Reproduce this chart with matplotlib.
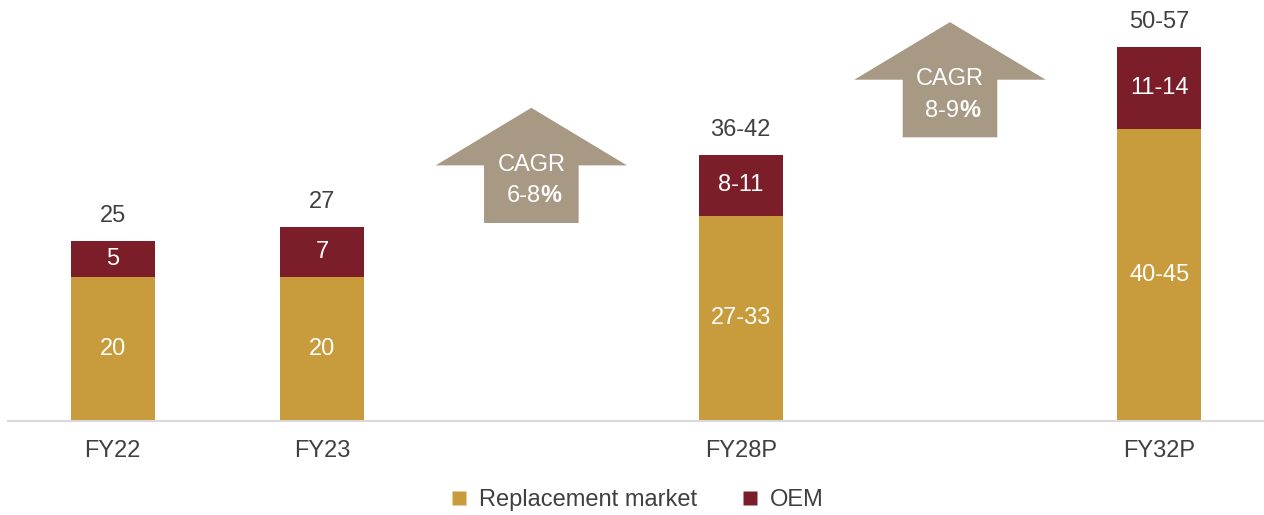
import matplotlib.pyplot as plt
from matplotlib.patches import Polygon
from matplotlib.lines import Line2D

plt.rcParams['font.family'] = ['Liberation Sans', 'DejaVu Sans']

years = ["FY22", "FY23", "FY28P", "FY32P"]
slots = [0, 1, 3, 5]

# bar heights (midpoints of the projected ranges for later years)
replacement = [20, 20, 28.5, 40.5]
oem = [5, 7, 8.5, 11.5]
replacement_labels = ["20", "20", "27-33", "40-45"]
oem_labels = ["5", "7", "8-11", "11-14"]
total_labels = ["25", "27", "36-42", "50-57"]

cagr_slots = [2, 4]
cagr_labels = ["6-8", "8-9"]
cagr_tips = [43.5, 55.4]

GOLD = "#C89B3C"
MAROON = "#7B1E2A"
TAUPE = "#A89985"
TEXT = "#404040"

fig = plt.figure(figsize=(12.64, 5.15), dpi=100)
ax = fig.add_axes([8 / 1264, 1 - 421 / 515, 1 - 8 / 1264, 421 / 515])

width = 0.4
ax.bar(slots, replacement, width, color=GOLD)
ax.bar(slots, oem, width, bottom=replacement, color=MAROON)

for x, r, o, rl, ol, tl in zip(slots, replacement, oem,
                               replacement_labels, oem_labels, total_labels):
    ax.text(x, r / 2, rl, ha='center', va='center', color='white', fontsize=17)
    ax.text(x, r + o / 2, ol, ha='center', va='center', color='white', fontsize=17)
    ax.annotate(tl, (x, r + o), xytext=(0, 18), textcoords='offset points',
                ha='center', va='center', color=TEXT, fontsize=17)

# CAGR block arrows between the bars
for s, lab, tip in zip(cagr_slots, cagr_labels, cagr_tips):
    head = tip - 8.0
    bottom = head - 8.0
    hw, sw = 0.457, 0.226
    pts = [(s - sw, bottom), (s + sw, bottom), (s + sw, head), (s + hw, head),
           (s, tip), (s - hw, head), (s - sw, head)]
    ax.add_patch(Polygon(pts, closed=True, facecolor=TAUPE, edgecolor='none'))
    ax.text(s, head + 0.1, "CAGR", ha='center', va='center',
            color='white', fontsize=17)
    t = ax.text(s + 0.045, head - 4.3, lab, ha='right', va='center',
                color='white', fontsize=17)
    ax.annotate("%", xy=(1, 0), xycoords=t, ha='left', va='bottom',
                color='white', fontsize=17, fontweight='bold')

ax.set_xlim(-0.5, 5.5)
ax.set_ylim(0, 421 / 7.2)
ax.set_xticks(slots)
ax.set_xticklabels(years, fontsize=17, color=TEXT)
ax.tick_params(axis='x', length=0, pad=14)
ax.set_yticks([])
for side in ['top', 'right', 'left']:
    ax.spines[side].set_visible(False)
ax.spines['bottom'].set_color('#D9D9D9')
ax.spines['bottom'].set_linewidth(1.5)

handles = [Line2D([], [], marker='s', linestyle='none', markersize=9.5,
                  markerfacecolor=GOLD, markeredgecolor='none'),
           Line2D([], [], marker='s', linestyle='none', markersize=9.5,
                  markerfacecolor=MAROON, markeredgecolor='none')]
fig.legend(handles, ["Replacement market", "OEM"], loc='center',
           bbox_to_anchor=(637 / 1264, 1 - 500 / 515), ncol=2, frameon=False,
           fontsize=17, labelcolor=TEXT, handlelength=0.7, handletextpad=0.5,
           columnspacing=1.9)

fig.savefig("out.png", dpi=100)
